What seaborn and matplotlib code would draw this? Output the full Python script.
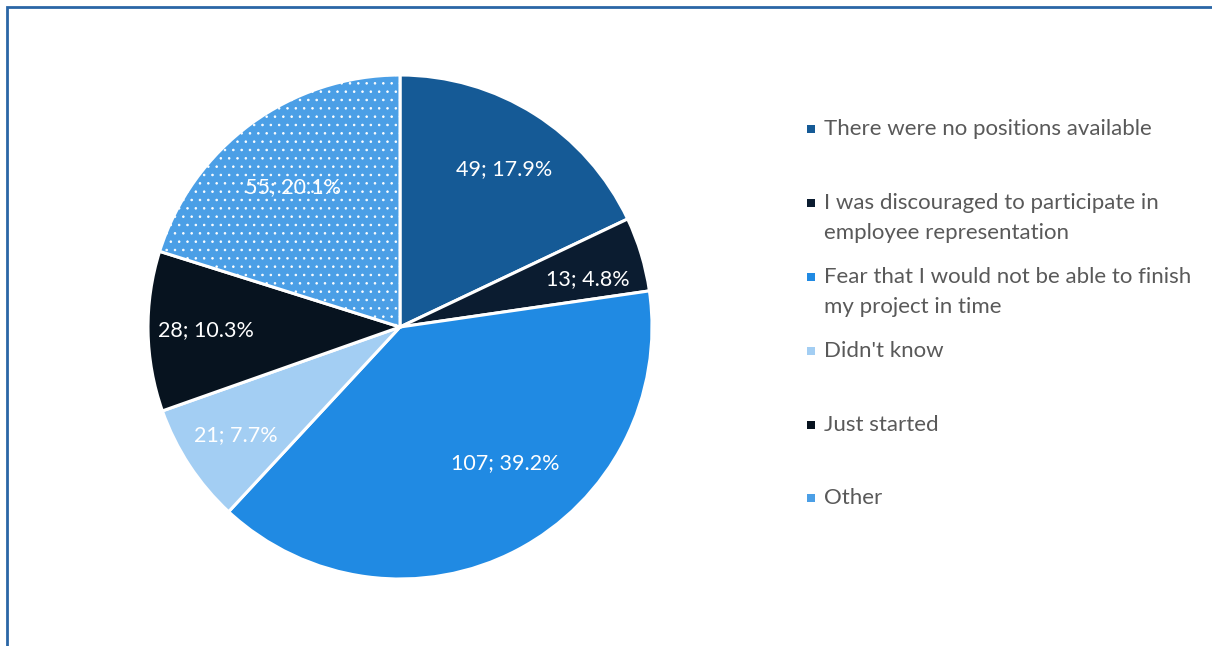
import matplotlib
matplotlib.use("Agg")
import matplotlib.pyplot as plt
from matplotlib.patches import Rectangle
import numpy as np
import seaborn as sns

# Reasons for not taking part in employee representation
categories = [
    "There were no positions available",
    "I was discouraged to participate in\nemployee representation",
    "Fear that I would not be able to finish\nmy project in time",
    "Didn't know",
    "Just started",
    "Other",
]
counts = [49, 13, 107, 21, 28, 55]
percents = [17.9, 4.8, 39.2, 7.7, 10.3, 20.1]
colors = ["#155A96", "#0B1C30", "#208AE3", "#A3CEF3", "#07131F", "#4B9FE6"]
hatches = [None, None, None, None, None, ".."]

sns.set_theme(style="white")
plt.rcParams["font.family"] = ["Lato", "DejaVu Sans"]
plt.rcParams["hatch.linewidth"] = 0.6

W, H = 1212, 646
fig = plt.figure(figsize=(W / 100, H / 100), dpi=100)
fig.patch.set_facecolor("white")

# pie area: centre (400, 327), radius 252 px
cx, cy, r = 400, 327, 252
ax = fig.add_axes([(cx - r) / W, (H - cy - r) / H, 2 * r / W, 2 * r / H])
wedges, _ = ax.pie(
    counts,
    colors=colors,
    startangle=90,
    counterclock=False,
    wedgeprops=dict(edgecolor="white", linewidth=2.2),
)
for w, h in zip(wedges, hatches):
    if h:
        w.set_hatch(h)
ax.set_aspect("equal")
ax.set_xlim(-1, 1)
ax.set_ylim(-1, 1)
ax.axis("off")

# value labels inside the slices (radius fraction, angular nudge in degrees)
label_r = [0.75, 0.77, 0.68, 0.78, 0.77, 0.70]
label_nudge = [-1, -2.5, 10, 0, 0, 1]
for w, n, p, lr, dn in zip(wedges, counts, percents, label_r, label_nudge):
    ang = np.deg2rad((w.theta1 + w.theta2) / 2 + dn)
    ax.text(lr * np.cos(ang), lr * np.sin(ang), f"{n}; {p}%",
            ha="center", va="center", color="white", fontsize=15.5)

# legend: square marker beside the first line of each entry
rows_y = [129, 203, 277, 351, 425, 498]
line_step = 30
for lab, col, y in zip(categories, colors, rows_y):
    sq = 8
    fig.patches.append(Rectangle(((811 - sq / 2) / W, (H - y - sq / 2) / H), sq / W, sq / H,
                                 transform=fig.transFigure, facecolor=col,
                                 edgecolor="none", figure=fig))
    for i, line in enumerate(lab.split("\n")):
        fig.text(824 / W, (H - (y + 6 + i * line_step)) / H, line,
                 ha="left", va="baseline", color="#595959", fontsize=16)

# chart frame
fig.patches.append(Rectangle((6.5 / W, -0.1), 2, (H - 7) / H + 0.1,
                             transform=fig.transFigure, facecolor="none",
                             edgecolor="#2A66A6", linewidth=2, figure=fig))

fig.savefig("out.png", dpi=100, facecolor="white")
